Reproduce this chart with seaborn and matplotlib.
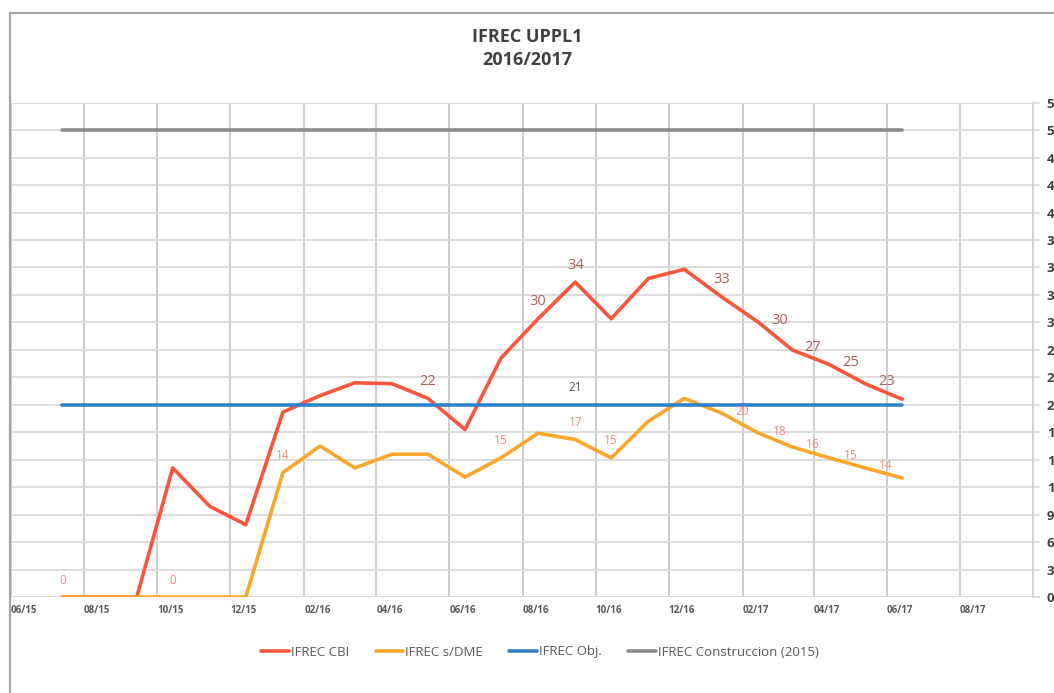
import pandas as pd
import seaborn as sns
import matplotlib.pyplot as plt
import matplotlib.dates as mdates
from matplotlib.patches import Rectangle
from matplotlib.ticker import FuncFormatter

# monthly points (Excel puts them mid-month)
months = pd.date_range("2015-07-14", periods=24, freq=pd.DateOffset(months=1))

cbi = [0, 0, 0, 14.1, 9.9, 7.9, 20.2, 22.0, 23.4, 23.3, 21.7, 18.3,
       26.1, 30.4, 34.4, 30.4, 34.8, 35.8, 32.8, 30.0, 27.0, 25.4, 23.3, 21.6]
dme = [0, 0, 0, 0, 0, 0, 13.6, 16.5, 14.1, 15.6, 15.6, 13.1,
       15.2, 17.9, 17.2, 15.2, 19.2, 21.7, 20.1, 17.9, 16.4, 15.2, 14.1, 13.0]
obj = [21, 21, 21, 21, 21, 21, 21, 21, 21, 21, 21, 21,
       21, 21, 21, 21, 21, 21, 21, 21, 21, 21, 21, 21]
cons = [51, 51, 51, 51, 51, 51, 51, 51, 51, 51, 51, 51,
        51, 51, 51, 51, 51, 51, 51, 51, 51, 51, 51, 51]

names = ["IFREC CBI", "IFREC s/DME", "IFREC Obj.", "IFREC Construccion (2015)"]
colors = ["#F8553A", "#F9A62B", "#2F82C8", "#8C8C8C"]

# which points carry a data label
cbi_labels = [(10, "above"), (13, "above"), (14, "above"), (18, "above"),
              (19, "right"), (20, "right"), (21, "right"), (22, "right")]
dme_labels = [(0, "above"), (3, "above"), (6, "above"), (12, "above"), (14, "above"),
              (15, "above"), (18, "right"), (19, "right"), (20, "right"), (21, "right"), (22, "right")]
obj_labels = [(14, "above")]

df = pd.concat([pd.DataFrame({"fecha": months, "valor": v, "serie": n})
                for v, n in zip([cbi, dme, obj, cons], names)])

sns.set_style("white")
plt.rcParams["font.family"] = ["Open Sans", "DejaVu Sans"]

fig = plt.figure(figsize=(10.54, 6.93), dpi=100)
ax = fig.add_axes([0.0104, 0.1385, 0.9696, 0.7133])

sns.lineplot(data=df, x="fecha", y="valor", hue="serie", palette=dict(zip(names, colors)),
             linewidth=2.6, ax=ax)

offs = {"above": (0, 17), "right": (21, 2)}
for vals, labs, col, fs in [(cbi, cbi_labels, "#A9625B", 10.5),
                            (dme, dme_labels, "#F2877A", 8.5),
                            (obj, obj_labels, "#595959", 8.5)]:
    for i, pos in labs:
        ax.annotate(str(round(vals[i])), (months[i], vals[i]), xytext=offs[pos],
                    textcoords="offset pixels", ha="center", va="center",
                    color=col, fontsize=fs)

x_end = pd.Timestamp("2017-10-01")
ax.set_xlim(pd.Timestamp("2015-06-01"), x_end)
ax.set_ylim(0, 54)
ax.set_yticks(range(0, 55, 3))
ax.xaxis.set_major_locator(mdates.MonthLocator(bymonth=[2, 4, 6, 8, 10, 12]))
ax.xaxis.set_major_formatter(FuncFormatter(
    lambda x, p: "" if x >= mdates.date2num(x_end) else mdates.num2date(x).strftime("%m/%y")))
ax.yaxis.tick_right()
ax.set_xlabel("")
ax.set_ylabel("")

ax.grid(axis="y", color="#D9D9D9", linewidth=1.3)
ax.grid(axis="x", color="#C4C4C4", linewidth=1.2)
ax.set_axisbelow(True)
for s in ["top", "left", "bottom"]:
    ax.spines[s].set_visible(False)
ax.spines["right"].set_color("#D0D0D0")
ax.spines["right"].set_linewidth(1.2)

ax.tick_params(axis="x", length=0, pad=6, labelsize=7, labelcolor="#595959")
ax.tick_params(axis="y", length=5, width=1.2, color="#D9D9D9", pad=5,
               labelsize=9.5, labelcolor="#404040")
for t in ax.get_xticklabels():
    t.set_horizontalalignment("left")
    t.set_fontweight("bold")
for t in ax.get_yticklabels():
    t.set_fontweight("bold")

fig.text(0.5, 1 - 37 / 693, "IFREC UPPL1", ha="center", va="center",
         fontsize=13, fontweight="bold", color="#404040")
fig.text(0.5, 1 - 60 / 693, "2016/2017", ha="center", va="center",
         fontsize=13, fontweight="bold", color="#404040")

ax.legend(loc="center", bbox_to_anchor=(540 / 1054, 1 - 652 / 693), bbox_transform=fig.transFigure,
          ncol=4, frameon=False, fontsize=9.5, handlelength=2.1, handletextpad=0.15,
          columnspacing=2.0, labelcolor="#595959")

# outer chart frame
fig.add_artist(Rectangle((10 / 1054, -0.1), 1.2, 1.1 - 13 / 693, transform=fig.transFigure,
                         fill=False, edgecolor="#A6A6A6", linewidth=1.6))

fig.savefig("out.png", dpi=100)
